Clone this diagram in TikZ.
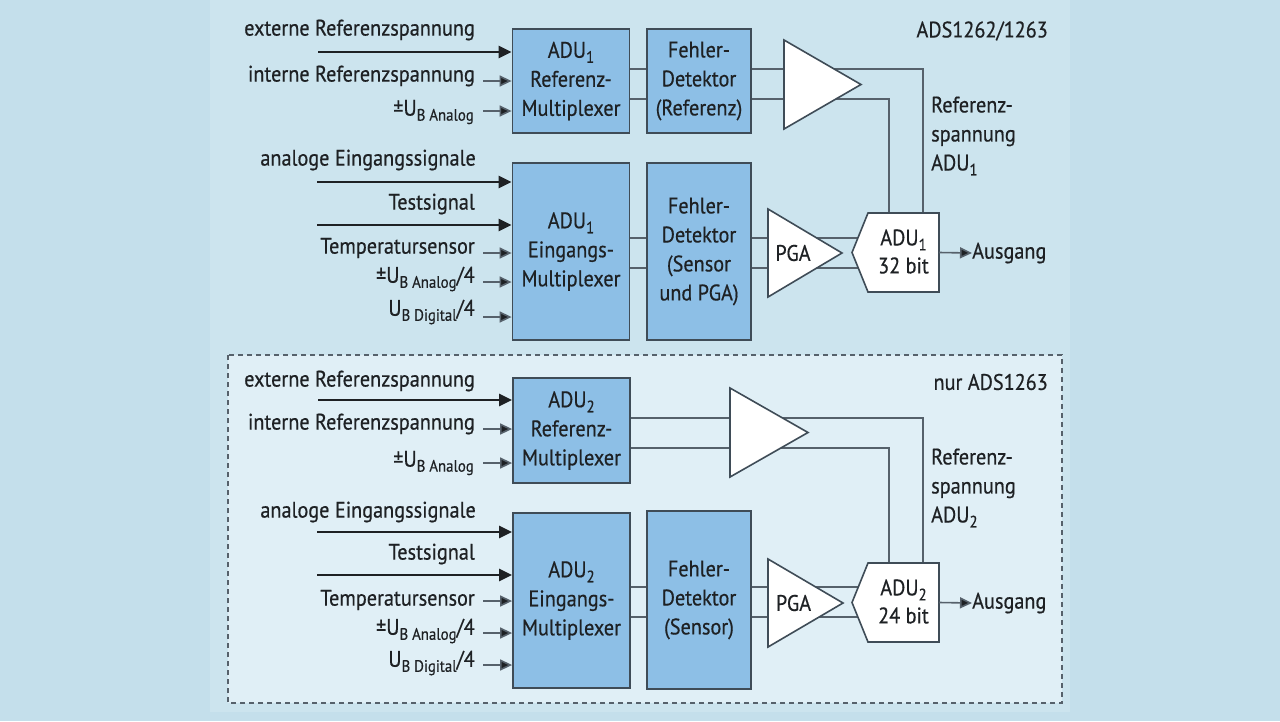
\documentclass[tikz,border=0pt]{standalone}
\usepackage{fontspec}
\setmainfont{PT Sans}[FakeStretch=0.9, FakeBold=0.5]
\usetikzlibrary{arrows.meta,calc}
\definecolor{bgc}{HTML}{C4DFEB}
\definecolor{panelc}{HTML}{CCE4EE}
\definecolor{dashfill}{HTML}{E0EFF6}
\definecolor{blkc}{HTML}{8DBFE6}
\definecolor{bordc}{HTML}{3F4C57}
\definecolor{linec}{HTML}{56616B}
\definecolor{txtc}{HTML}{1E2124}
\tikzset{
  lbl/.style={font=\fontsize{22.5}{29}\selectfont, text=txtc, inner sep=0pt},
  inlbl/.style={lbl, anchor=east},
  blk/.style={draw=bordc, line width=1.8pt, fill=blkc, inner sep=0pt, align=center,
     font=\fontsize{22.5}{29}\selectfont, text=txtc},
  ghost/.style={inner sep=0pt, outer sep=0pt},
  wshape/.style={draw=bordc, line width=1.6pt, fill=white, line join=miter},
  conn/.style={draw=linec, line width=1.5pt},
  thickarr/.style={draw=txtc, line width=2.8pt, -{Triangle[length=13pt,width=12pt]}},
  thinarr/.style={draw=linec, line width=1.6pt, -{Triangle[length=12pt,width=11pt,fill=txtc]}},
  dashbox/.style={draw=linec, line width=1.6pt, dash pattern=on 5pt off 4pt, fill=dashfill},
}
\newcommand{\sbx}[1]{\raisebox{-5pt}{\fontsize{16.5}{16.5}\selectfont #1}}
\newcommand{\UB}[1]{U\sbx{B #1}}
\begin{document}
\begin{tikzpicture}[x=1pt,y=-1pt]
\useasboundingbox (0,0) rectangle (1280,721);
\fill[bgc] (0,0) rectangle (1280,721);
\fill[panelc] (210,0) rectangle (1070,712);
\draw[dashbox] (228,355) rectangle (1062,703);

% ---------------- top section ----------------
\node[blk, minimum width=117pt, minimum height=104pt] (A1) at (571,81) {ADU\sbx{1}\\Referenz-\\Multiplexer};
\node[blk, minimum width=104pt, minimum height=104pt] (F1) at (699,81) {Fehler-\\Detektor\\(Referenz)};
\node[blk, minimum width=117pt, minimum height=177pt] (B1) at (571,251.5) {ADU\sbx{1}\\Eingangs-\\Multiplexer};
\node[blk, minimum width=104pt, minimum height=177pt] (F2) at (699,251.5) {Fehler-\\Detektor\\(Sensor\\und PGA)};

\node[ghost, minimum width=77pt, minimum height=89pt] (T1) at (822.5,84.5) {};
\node[ghost, minimum width=74pt, minimum height=88pt] (P1) at (805,253) {};
\node[ghost, minimum width=71pt, minimum height=79pt] (D1) at (903.5,252.5) {};

\coordinate (k1a) at (923,69);
\coordinate (k1b) at (889,99);
\coordinate (m1a) at (0,238);
\coordinate (m1b) at (0,268);
\draw[conn] (A1.east |- k1a) -- (F1.west |- k1a);
\draw[conn] (A1.east |- k1b) -- (F1.west |- k1b);
\draw[conn] (F1.east |- k1a) -- (k1a) -- (k1a |- D1.north);
\draw[conn] (F1.east |- k1b) -- (k1b) -- (k1b |- D1.north);
\draw[conn] (B1.east |- m1a) -- (F2.west |- m1a);
\draw[conn] (B1.east |- m1b) -- (F2.west |- m1b);
\draw[conn] (F2.east |- m1a) -- (D1.west |- m1a);
\draw[conn] (F2.east |- m1b) -- (D1.west |- m1b);

\draw[wshape] (T1.north west) -- (T1.east) -- (T1.south west) -- cycle;
\draw[wshape] (P1.north west) -- (P1.east) -- (P1.south west) -- cycle;
\draw[wshape] (D1.north west) -- (D1.north east) -- (D1.south east) -- (D1.south west) -- ($(D1.west)+(-16,0)$) -- cycle;
\node[lbl] (P1t) at ($(P1.center)+(-12,0)$) {PGA};
\node[ghost, align=center, font=\fontsize{22.5}{28}\selectfont, text=txtc] (D1t) at ($(D1.center)+(0,-1)$) {ADU\sbx{1}\\32 bit};

\node[lbl, anchor=west] (O1) at (972,253) {Ausgang};
\draw[thinarr] (D1.east) -- (O1.west);

\node[lbl, anchor=east] (H1) at (1048,31) {ADS1262/1263};
\node[lbl, anchor=west, align=left] (R1) at (931,136) {Referenz-\\spannung\\ADU\sbx{1}};

% inputs top
\node[inlbl] (L1) at (475,30) {externe Referenzspannung};
\node[inlbl] (L2) at (475,76) {interne Referenzspannung};
\node[inlbl] (L3) at (474,112) {±\UB{Analog}};
\coordinate (a1) at (318,52);
\coordinate (a2) at (483,81);
\coordinate (a3) at (483,111);
\draw[thickarr] (a1) -- (a1 -| A1.west);
\draw[thinarr] (a2) -- (a2 -| A1.west);
\draw[thinarr] (a3) -- (a3 -| A1.west);

\node[inlbl] (L4) at (476,160) {analoge Eingangssignale};
\node[inlbl] (L5) at (475,204) {Testsignal};
\node[inlbl] (L6) at (475,248) {Temperatursensor};
\node[inlbl] (L7) at (475,279) {±\UB{Analog}/4};
\node[inlbl] (L8) at (475,312) {\UB{Digital}/4};
\coordinate (b1) at (317,182);
\coordinate (b2) at (317,225);
\coordinate (b3) at (483,253);
\coordinate (b4) at (483,282);
\coordinate (b5) at (483,317);
\draw[thickarr] (b1) -- (b1 -| B1.west);
\draw[thickarr] (b2) -- (b2 -| B1.west);
\draw[thinarr] (b3) -- (b3 -| B1.west);
\draw[thinarr] (b4) -- (b4 -| B1.west);
\draw[thinarr] (b5) -- (b5 -| B1.west);

% ---------------- bottom section ----------------
\node[blk, minimum width=117pt, minimum height=105pt] (A2) at (571.5,430.5) {ADU\sbx{2}\\Referenz-\\Multiplexer};
\node[blk, minimum width=117pt, minimum height=175pt] (B2) at (571.5,600.5) {ADU\sbx{2}\\Eingangs-\\Multiplexer};
\node[blk, minimum width=104pt, minimum height=178pt] (F3) at (699,600) {Fehler-\\Detektor\\(Sensor)};

\node[ghost, minimum width=78pt, minimum height=89pt] (T2) at (769,432.5) {};
\node[ghost, minimum width=75pt, minimum height=88pt] (P2) at (805.5,603) {};
\node[ghost, minimum width=71pt, minimum height=79pt] (D2) at (903.5,602.5) {};

\coordinate (k2a) at (923,418);
\coordinate (k2b) at (889,448);
\coordinate (m2a) at (0,587);
\coordinate (m2b) at (0,617);
\draw[conn] (A2.east |- k2a) -- (k2a) -- (k2a |- D2.north);
\draw[conn] (A2.east |- k2b) -- (k2b) -- (k2b |- D2.north);
\draw[conn] (B2.east |- m2a) -- (F3.west |- m2a);
\draw[conn] (B2.east |- m2b) -- (F3.west |- m2b);
\draw[conn] (F3.east |- m2a) -- (D2.west |- m2a);
\draw[conn] (F3.east |- m2b) -- (D2.west |- m2b);

\draw[wshape] (T2.north west) -- (T2.east) -- (T2.south west) -- cycle;
\draw[wshape] (P2.north west) -- (P2.east) -- (P2.south west) -- cycle;
\draw[wshape] (D2.north west) -- (D2.north east) -- (D2.south east) -- (D2.south west) -- ($(D2.west)+(-16,0)$) -- cycle;
\node[lbl] (P2t) at ($(P2.center)+(-12,0)$) {PGA};
\node[ghost, align=center, font=\fontsize{22.5}{28}\selectfont, text=txtc] (D2t) at ($(D2.center)+(0,-1)$) {ADU\sbx{2}\\24 bit};

\node[lbl, anchor=west] (O2) at (972,603) {Ausgang};
\draw[thinarr] (D2.east) -- (O2.west);

\node[lbl, anchor=east] (H2) at (1048,382) {nur ADS1263};
\node[lbl, anchor=west, align=left] (R2) at (931,488) {Referenz-\\spannung\\ADU\sbx{2}};

% inputs bottom
\node[inlbl] (M1) at (475,381) {externe Referenzspannung};
\node[inlbl] (M2) at (475,424) {interne Referenzspannung};
\node[inlbl] (M3) at (474,463) {±\UB{Analog}};
\coordinate (c1) at (318,400);
\coordinate (c2) at (483,429);
\coordinate (c3) at (483,463);
\draw[thickarr] (c1) -- (c1 -| A2.west);
\draw[thinarr] (c2) -- (c2 -| A2.west);
\draw[thinarr] (c3) -- (c3 -| A2.west);

\node[inlbl] (M4) at (476,512) {analoge Eingangssignale};
\node[inlbl] (M5) at (475,554) {Testsignal};
\node[inlbl] (M6) at (475,600) {Temperatursensor};
\node[inlbl] (M7) at (475,631) {±\UB{Analog}/4};
\node[inlbl] (M8) at (475,663) {\UB{Digital}/4};
\coordinate (d1) at (317,532);
\coordinate (d2) at (317,575);
\coordinate (d3) at (483,601);
\coordinate (d4) at (483,633);
\coordinate (d5) at (483,665);
\draw[thickarr] (d1) -- (d1 -| B2.west);
\draw[thickarr] (d2) -- (d2 -| B2.west);
\draw[thinarr] (d3) -- (d3 -| B2.west);
\draw[thinarr] (d4) -- (d4 -| B2.west);
\draw[thinarr] (d5) -- (d5 -| B2.west);
\end{tikzpicture}
\end{document}
